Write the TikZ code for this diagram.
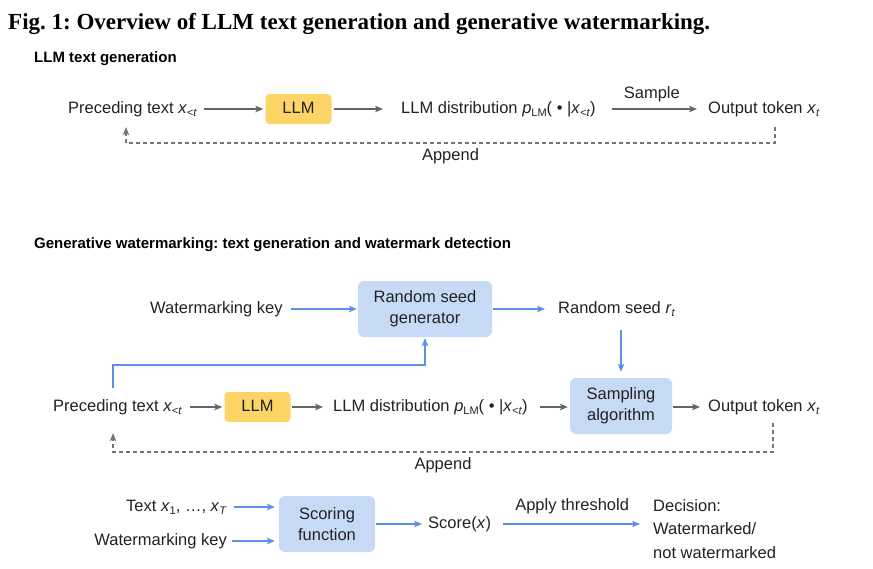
\documentclass[tikz,border=0pt]{standalone}
\usepackage{fontspec}
\setmainfont{Liberation Sans}
\newfontfamily\titlefont{Liberation Serif}
\usetikzlibrary{positioning,calc}
\usetikzlibrary{arrows.meta}
\frenchspacing

\definecolor{llmyellow}{HTML}{FDD566}
\definecolor{boxblue}{HTML}{C6DAF6}
\definecolor{linkblue}{HTML}{5C90E4}
\definecolor{linkgray}{HTML}{656565}
\definecolor{inkgray}{HTML}{222222}

% variable with a subscript, in the sans italic of the figure
\newcommand{\vsub}[2]{\textit{#1}\raisebox{-0.45ex}{\fontsize{11}{11}\selectfont #2}}

\begin{document}
\begin{tikzpicture}[x=1pt, y=-1pt, >={Stealth[length=8pt,width=6.5pt,inset=2pt]},
    lbl/.style = {font=\fontsize{16.5}{21}\selectfont, text=inkgray, inner sep=0pt, text height=12pt, text depth=4pt},
    heading/.style = {font=\fontsize{15}{18}\selectfont\bfseries, text=black, inner sep=0pt},
    llmbox/.style = {lbl, fill=llmyellow, rounded corners=4pt, minimum width=66pt, minimum height=30pt},
    bluebox/.style = {font=\fontsize{16.5}{21}\selectfont, text=inkgray, fill=boxblue, rounded corners=6pt, align=center, inner sep=0pt, minimum height=56pt},
    gline/.style = {->, draw=linkgray, line width=1.3pt},
    bline/.style = {->, draw=linkblue, line width=1.3pt},
    appendline/.style = {->, draw=linkgray!90, line width=1.1pt, dash pattern=on 4pt off 3pt}]

    \useasboundingbox (0,0) rectangle (873,568);

    \node [anchor=base west, inner sep=0pt, font=\fontsize{23}{26}\selectfont\titlefont\bfseries] (title) at (8,29)
        {Fig. 1: Overview of LLM text generation and generative watermarking.};

    % LLM text generation
    \node [heading, anchor=base west] (head1) at (34,62) {LLM text generation};

    \node [lbl, anchor=west] (prec1) at (68,109) {Preceding text \vsub{x}{\textit{<t}}};
    \node [llmbox] (llm1) at (298.5,109) {LLM};
    \node [lbl, anchor=west] (dist1) at (401,109) {LLM distribution \vsub{p}{LM}( \textbullet\ |\vsub{x}{\textit{<t}})};
    \node [lbl, anchor=west] (out1) at (708,109) {Output token \vsub{x}{\textit{t}}};

    \draw [gline, shorten <=7pt, shorten >=2pt] (prec1) -- (llm1);
    \draw [gline, shorten <=2pt, shorten >=18pt] (llm1) -- (dist1);
    \draw [gline, shorten <=16pt, shorten >=11pt] (dist1) -- (out1)
        node [lbl, midway, above=6pt] (sample) {Sample};

    \coordinate (ap1L) at (126,143);
    \coordinate (ap1R) at (775,143);
    \draw [appendline, shorten <=10pt, shorten >=10pt] (out1.south -| ap1R) -- (ap1R) -- (ap1L) -- (prec1.south -| ap1L);
    \path (ap1R) -- (ap1L) node [lbl, midway, below=5pt] (append1) {Append};

    % generative watermarking
    \node [heading, anchor=base west] (head2) at (34,248) {Generative watermarking: text generation and watermark detection};

    \node [lbl, anchor=west] (wkey1) at (150,309) {Watermarking key};
    \node [bluebox, minimum width=134pt] (rsg) at (425,309) {Random seed\\generator};
    \node [lbl, anchor=west] (seed) at (558,309) {Random seed \vsub{r}{\textit{t}}};

    \node [lbl, anchor=west] (prec2) at (53,407) {Preceding text \vsub{x}{\textit{<t}}};
    \node [llmbox] (llm2) at (257.5,407) {LLM};
    \node [lbl, anchor=west] (dist2) at (333,407) {LLM distribution \vsub{p}{LM}( \textbullet\ |\vsub{x}{\textit{<t}})};
    \node [bluebox, minimum width=102pt] (samp) at (621,406) {Sampling\\algorithm};
    \node [lbl, anchor=west] (out2) at (708,407) {Output token \vsub{x}{\textit{t}}};

    \draw [bline, shorten <=8pt, shorten >=1pt] (wkey1) -- (rsg);
    \draw [bline, shorten <=1pt, shorten >=13pt] (rsg) -- (seed);
    \draw [bline, shorten <=13pt, shorten >=6pt] (seed.south -| samp.north) -- (samp.north);
    \coordinate (kink) at (113,365);
    \draw [bline, shorten <=11pt, shorten >=1pt] (prec2.north -| kink) -- (kink) -| (rsg.south);

    \draw [gline, shorten <=8pt, shorten >=2pt] (prec2) -- (llm2);
    \draw [gline, shorten <=1pt, shorten >=10pt] (llm2) -- (dist2);
    \draw [gline, shorten <=12pt, shorten >=2pt] (dist2) -- (dist2 -| samp.west);
    \draw [gline, shorten <=1pt, shorten >=8pt] (samp.east |- out2) -- (out2);

    \coordinate (ap2L) at (113,452);
    \coordinate (ap2R) at (773,452);
    \draw [appendline, shorten <=8pt, shorten >=18pt] (out2.south -| ap2R) -- (ap2R) -- (ap2L) -- (prec2.south -| ap2L);
    \path (ap2R) -- (ap2L) node [lbl, midway, below=5pt] (append2) {Append};

    % watermark detection
    \node [lbl, anchor=east] (text) at (227,507) {Text \vsub{x}{1}, …, \vsub{x}{\textit{T}}};
    \node [lbl, anchor=east] (wkey2) at (227,541) {Watermarking key};
    \node [bluebox, minimum width=96pt] (score) at (327,524) {Scoring\\function};
    \node [lbl, anchor=west] (scr) at (428,524) {Score(\textit{x})};
    \node [lbl, anchor=north west, text height=, text depth=, align=left, font=\fontsize{16.5}{23.5}\selectfont] (dec) at (653,499)
        {Decision:\\Watermarked/\\not watermarked};

    \draw [bline, shorten <=7pt, shorten >=4pt] (text) -- (text -| score.west);
    \draw [bline, shorten <=5pt, shorten >=4pt] (wkey2) -- (wkey2 -| score.west);
    \draw [bline, shorten <=1pt, shorten >=6pt] (score) -- (scr);
    \draw [bline, shorten <=12pt, shorten >=13pt] (scr) -- (scr -| dec.west)
        node [lbl, midway, above=9pt] (thresh) {Apply threshold};

\end{tikzpicture}
\end{document}
